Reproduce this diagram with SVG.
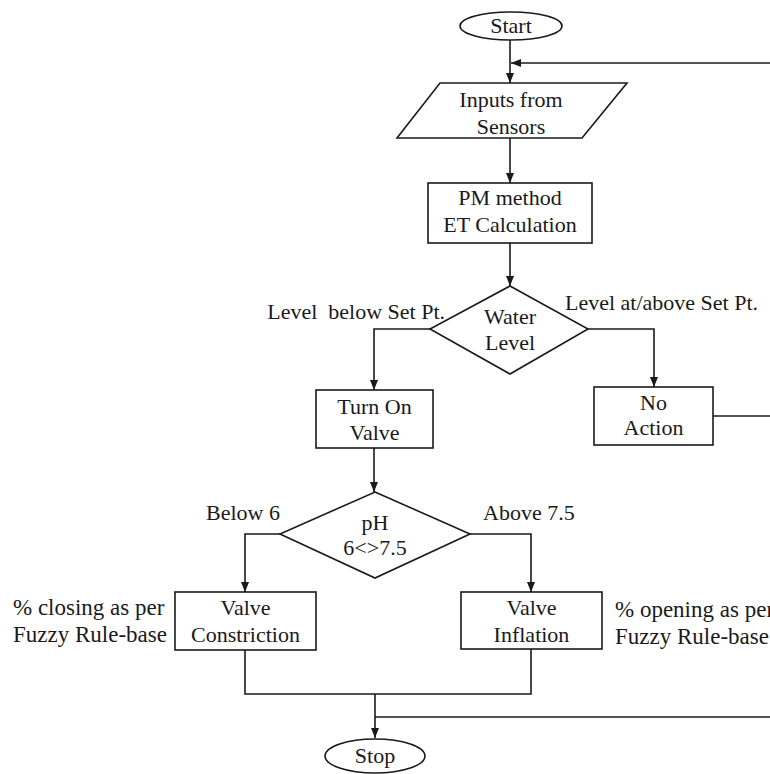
<svg xmlns="http://www.w3.org/2000/svg" width="770" height="774" viewBox="0 0 770 774">
<style>
.s{fill:#fff;stroke:#1a1a1a;stroke-width:1.6}
.t{font-family:"Liberation Serif","Times New Roman",serif;font-size:22px;fill:#1a1a1a}
.n{font-size:23px}
.c{text-anchor:middle}
.e{text-anchor:end}
.l{fill:none;stroke:#1a1a1a;stroke-width:1.6}
</style>
<defs>
<marker id="a" viewBox="0 0 10 10" refX="10" refY="5" markerWidth="10" markerHeight="10" markerUnits="userSpaceOnUse" orient="auto">
<path d="M0,1 L10,5 L0,9 Z" fill="#1a1a1a"/>
</marker>
</defs>
<rect width="770" height="774" fill="#fff"/>
<g id="connectors">
<line class="l" x1="510" y1="40" x2="510" y2="83" marker-end="url(#a)"/>
<line class="l" x1="770" y1="63" x2="511" y2="63" marker-end="url(#a)"/>
<line class="l" x1="510" y1="138" x2="510" y2="183" marker-end="url(#a)"/>
<line class="l" x1="510" y1="243" x2="510" y2="286" marker-end="url(#a)"/>
<polyline class="l" points="430,329 374,329 374,390" marker-end="url(#a)"/>
<polyline class="l" points="588,329 654,329 654,387" marker-end="url(#a)"/>
<line class="l" x1="713" y1="416" x2="770" y2="416"/>
<line class="l" x1="374" y1="448" x2="374" y2="492" marker-end="url(#a)"/>
<polyline class="l" points="280,534 245,534 245,592" marker-end="url(#a)"/>
<polyline class="l" points="470,534 531,534 531,592" marker-end="url(#a)"/>
<polyline class="l" points="245,650 245,694 531,694 531,649"/>
<line class="l" x1="375" y1="694" x2="375" y2="738" marker-end="url(#a)"/>
<line class="l" x1="375" y1="717" x2="770" y2="717"/>
</g>
<g id="start">
<ellipse class="s" cx="511" cy="26" rx="51" ry="14"/>
<text class="t c" x="511" y="33">Start</text>
</g>
<g id="inputs">
<polygon class="s" points="440,83 627,83 582,138 397,138"/>
<text class="t c" x="511" y="107">Inputs from</text>
<text class="t c" x="511" y="134">Sensors</text>
</g>
<g id="pm">
<rect class="s" x="428" y="183" width="164" height="60"/>
<text class="t c" x="510" y="205">PM method</text>
<text class="t c" x="510" y="232">ET Calculation</text>
</g>
<g id="water">
<polygon class="s" points="510,286 588,329 510,374 430,329"/>
<text class="t c" x="510" y="324">Water</text>
<text class="t c" x="510" y="350">Level</text>
</g>
<g id="labels-water">
<text class="t e" x="445" y="319" xml:space="preserve">Level  below Set Pt.</text>
<text class="t" x="565" y="310">Level at/above Set Pt.</text>
</g>
<g id="turnon">
<rect class="s" x="316" y="390" width="117" height="58"/>
<text class="t c" x="374.5" y="414">Turn On</text>
<text class="t c" x="374.5" y="440">Valve</text>
</g>
<g id="noaction">
<rect class="s" x="594" y="387" width="119" height="58"/>
<text class="t c" x="653.5" y="410">No</text>
<text class="t c" x="653.5" y="435">Action</text>
</g>
<g id="ph">
<polygon class="s" points="375,492 470,534 375,578 280,534"/>
<text class="t c" x="375" y="530">pH</text>
<text class="t c" x="375" y="555">6&lt;&gt;7.5</text>
</g>
<g id="labels-ph">
<text class="t e" x="280" y="520">Below 6</text>
<text class="t" x="483" y="520">Above 7.5</text>
</g>
<g id="constriction">
<rect class="s" x="175" y="592" width="141" height="58"/>
<text class="t c" x="245.5" y="615">Valve</text>
<text class="t c" x="245.5" y="642">Constriction</text>
</g>
<g id="inflation">
<rect class="s" x="461" y="592" width="141" height="57"/>
<text class="t c" x="531.5" y="615">Valve</text>
<text class="t c" x="531.5" y="642">Inflation</text>
</g>
<g id="notes">
<text class="t n" x="13" y="615">% closing as per</text>
<text class="t n" x="13" y="642">Fuzzy Rule-base</text>
<text class="t n" x="615" y="617">% opening as per</text>
<text class="t n" x="615" y="644">Fuzzy Rule-base</text>
</g>
<g id="stop">
<ellipse class="s" cx="375" cy="756" rx="50" ry="17"/>
<text class="t c" x="375" y="763">Stop</text>
</g>
</svg>
